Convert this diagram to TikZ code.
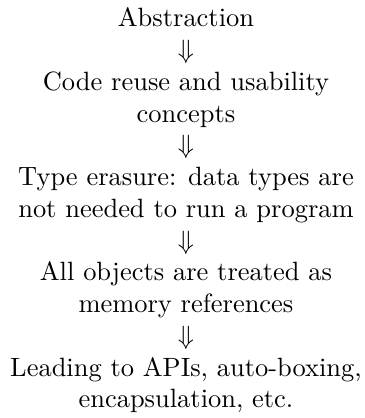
\documentclass[tikz,border=0pt]{standalone}
\usepackage{amsmath,amssymb}
\usetikzlibrary{matrix}

\begin{document}
\begin{tikzpicture}[every node/.style={inner sep=0pt,align=center}]
  \tikzstyle{stage}=[font=\normalsize]
  \tikzstyle{impl}=[font=\normalsize]

  \matrix (m) [row sep=0pt] {
    \node[stage](abs)   {\strut Abstraction\strut}; \\
    \node[impl] (d1)    {\strut$\Downarrow$\strut}; \\
    \node[stage](reuse) {\strut Code reuse and usability\\concepts\strut}; \\
    \node[impl] (d2)    {\strut$\Downarrow$\strut}; \\
    \node[stage](erase) {\strut Type erasure: data types are\\not needed to run a program\strut}; \\
    \node[impl] (d3)    {\strut$\Downarrow$\strut}; \\
    \node[stage](refs)  {\strut All objects are treated as\\memory references\strut}; \\
    \node[impl] (d4)    {\strut$\Downarrow$\strut}; \\
    \node[stage](apis)  {\strut Leading to APIs, auto-boxing,\\encapsulation, etc.\strut}; \\
  };

  \useasboundingbox (-70.3pt,-78.2pt) rectangle (67.3pt,79.8pt);
\end{tikzpicture}
\end{document}
